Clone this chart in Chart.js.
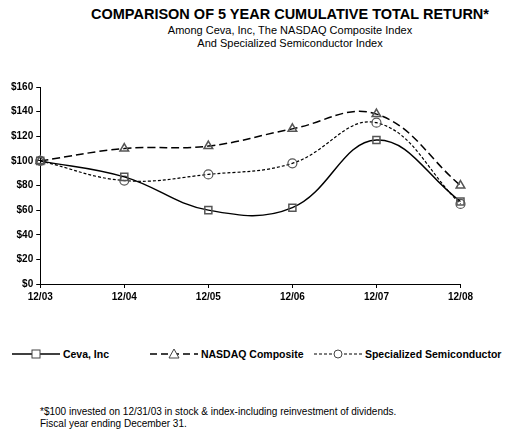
<!DOCTYPE html>
<html><head><meta charset="utf-8">
<script src="https://cdn.jsdelivr.net/npm/chart.js"></script>
<style>
body{margin:0;width:509px;height:437px;background:#fff;font-family:Arial,"Liberation Sans",sans-serif;position:relative;overflow:hidden}
#t{position:absolute;top:6px;left:90px;width:400px;text-align:center;font-weight:bold;font-size:14.5px;color:#000}
#s{position:absolute;top:24px;left:90px;width:400px;text-align:center;font-size:11px;line-height:13px;color:#000}
#c{position:absolute;left:8px;top:78px;width:468px;height:228px}
#lg{position:absolute;top:348px;left:0;width:509px;font-size:10.5px;font-weight:bold}
.li{position:absolute;display:flex;align-items:center}
#fn{position:absolute;top:406px;left:40px;font-size:10px;line-height:12px}
</style></head><body>
<div id="t">COMPARISON OF 5 YEAR CUMULATIVE TOTAL RETURN*</div>
<div id="s">Among Ceva, Inc, The NASDAQ Composite Index<br>And Specialized Semiconductor Index</div>
<div id="c"><canvas id="cv"></canvas></div>
<div id="lg">
<div class="li" style="left:12px"><svg width="48" height="12"><line x1="0" y1="6" x2="48" y2="6" stroke="#000" stroke-width="1.5"/><rect x="20" y="2" width="8" height="8" fill="#fff" stroke="#444"/></svg>&nbsp;Ceva, Inc</div>
<div class="li" style="left:150px"><svg width="48" height="12"><line x1="0" y1="6" x2="48" y2="6" stroke="#000" stroke-width="1.5" stroke-dasharray="7,4"/><polygon points="24,1 29,10 19,10" fill="#fff" stroke="#444"/></svg>&nbsp;NASDAQ Composite</div>
<div class="li" style="left:314px"><svg width="48" height="12"><line x1="0" y1="6" x2="48" y2="6" stroke="#000" stroke-width="1.2" stroke-dasharray="3,2"/><circle cx="24" cy="6" r="4" fill="#fff" stroke="#444"/></svg>&nbsp;Specialized Semiconductor</div>
</div>
<div id="fn">*$100 invested on 12/31/03 in stock &amp; index-including reinvestment of dividends.<br>Fiscal year ending December 31.</div>
<script>
const categories=["12/03","12/04","12/05","12/06","12/07","12/08"];
const ceva=[100,87,60,62,117,67];
const nasdaq=[100,110,112,126,138,80];
const semi=[100,84,89,98,131,65];
const f={family:"Arial",size:10,weight:"bold"};
new Chart(document.getElementById('cv'),{type:'line',
data:{labels:categories,datasets:[
{label:'Ceva, Inc',data:ceva,borderColor:'#000',borderWidth:1.5,pointStyle:'rect',pointRadius:5,pointBackgroundColor:'rgba(255,255,255,0)',pointBorderColor:'#555',tension:0.4},
{label:'NASDAQ Composite',data:nasdaq,borderColor:'#000',borderWidth:1.5,borderDash:[8,4],pointStyle:'triangle',pointRadius:5,pointBackgroundColor:'rgba(255,255,255,0)',pointBorderColor:'#555',tension:0.4},
{label:'Specialized Semiconductor',data:semi,borderColor:'#000',borderWidth:1.2,borderDash:[3,2],pointStyle:'circle',pointRadius:4.5,pointBackgroundColor:'rgba(255,255,255,0)',pointBorderColor:'#555',tension:0.4}]},
options:{responsive:true,maintainAspectRatio:false,animation:false,
layout:{padding:{left:0,right:0,top:0,bottom:0}},
plugins:{legend:{display:false},tooltip:{enabled:false}},
scales:{x:{offset:false,grid:{drawOnChartArea:false,tickLength:4,color:'#000'},border:{color:'#000'},ticks:{color:'#000',font:f,maxRotation:0}},
y:{min:0,max:160,grid:{drawOnChartArea:false,tickLength:4,color:'#000'},border:{color:'#000'},ticks:{stepSize:20,color:'#000',font:f,callback:v=>'$'+v}}}}});
</script></body></html>
